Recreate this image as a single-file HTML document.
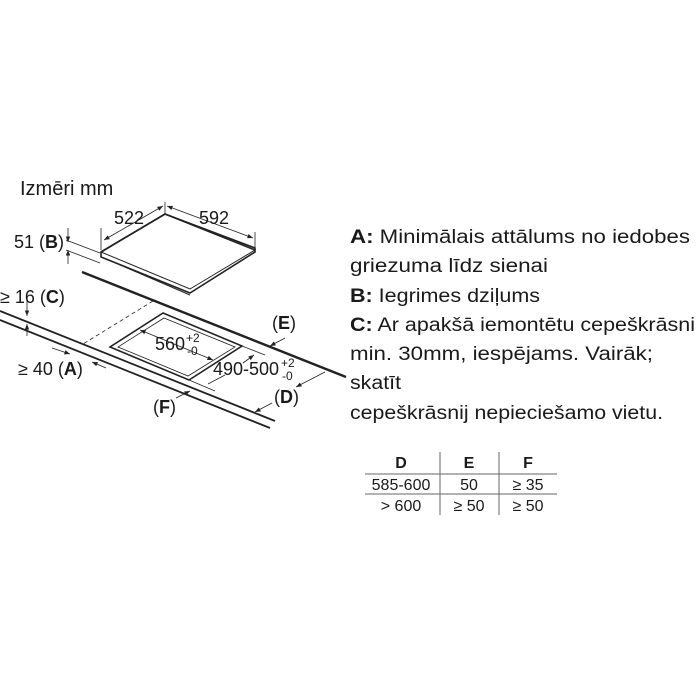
<!DOCTYPE html>
<html><head><meta charset="utf-8"><style>
html,body{margin:0;padding:0;background:#fff;width:700px;height:700px;overflow:hidden}
svg{display:block}
text{font-family:"Liberation Sans",sans-serif;fill:#1a1a1a}
</style></head><body>
<svg width="700" height="700" viewBox="0 0 700 700" xmlns="http://www.w3.org/2000/svg">
<defs>
<marker id="ar" viewBox="0 0 10 10" refX="10" refY="5" markerWidth="7" markerHeight="7" orient="auto-start-reverse"><path d="M0,1 L10,5 L0,9 z" fill="#222"/></marker>
</defs>
<g stroke="#222" fill="none">
<path d="M165,214 L255,248 L255,252 L190,293 L101,257 L101,252 Z" fill="#fff" stroke-width="1.6"/>
<path d="M101,252 L165,214 L255,250" stroke-width="1.6"/>
<path d="M101,252 L190,289 L255,250" stroke-width="1"/>
<path d="M104,258 L190,295" stroke-width="1"/>
<line x1="165" y1="202" x2="165" y2="214" stroke-width="0.8"/>
<line x1="101" y1="228" x2="101" y2="250" stroke-width="0.8"/>
<line x1="255" y1="232" x2="255" y2="248" stroke-width="0.8"/>
<line x1="104" y1="240" x2="163" y2="206" stroke-width="0.8" marker-start="url(#ar)" marker-end="url(#ar)"/>
<line x1="167" y1="206" x2="253" y2="238" stroke-width="0.8" marker-start="url(#ar)" marker-end="url(#ar)"/>
<line x1="66" y1="240" x2="100" y2="253" stroke-width="0.8"/>
<line x1="66" y1="250" x2="100" y2="263" stroke-width="0.8"/>
<line x1="68" y1="228" x2="68" y2="242" stroke-width="0.8" marker-end="url(#ar)"/>
<line x1="68" y1="264" x2="68" y2="250" stroke-width="0.8" marker-end="url(#ar)"/>
<line x1="82" y1="272" x2="346" y2="377" stroke-width="2.4"/>
<line x1="0" y1="311" x2="275" y2="421" stroke-width="1.8"/>
<line x1="0" y1="320" x2="270" y2="428" stroke-width="1.8"/>
<line x1="27" y1="300" x2="27" y2="316" stroke-width="0.8" marker-end="url(#ar)"/>
<line x1="27" y1="336" x2="27" y2="324" stroke-width="0.8" marker-end="url(#ar)"/>
<line x1="153" y1="301" x2="83" y2="344" stroke-width="0.8" stroke-dasharray="4,3"/>
<path d="M163,313 L242,346 L189,380 L110,347 Z" stroke-width="1.6"/>
<path d="M164,318 L235,347 L188,376 L118,347 Z" stroke-width="0.8"/>
<line x1="140" y1="330" x2="213" y2="360" stroke-width="0.8" marker-start="url(#ar)" marker-end="url(#ar)"/>
<line x1="242" y1="346" x2="265" y2="355" stroke-width="0.8"/>
<line x1="189" y1="380" x2="215" y2="391" stroke-width="0.8"/>
<line x1="243" y1="363" x2="254" y2="355" stroke-width="0.8" marker-end="url(#ar)"/>
<line x1="225" y1="375" x2="208" y2="384" stroke-width="0.8"/>
<line x1="52" y1="348" x2="70" y2="354" stroke-width="0.8" marker-end="url(#ar)"/>
<line x1="106" y1="368" x2="92" y2="362" stroke-width="0.8" marker-end="url(#ar)"/>
<line x1="285" y1="338" x2="270" y2="346" stroke-width="0.8" marker-end="url(#ar)"/>
<line x1="176" y1="398" x2="190" y2="391" stroke-width="0.8" marker-end="url(#ar)"/>
<line x1="325" y1="372" x2="296" y2="387" stroke-width="0.8" marker-end="url(#ar)"/>
<line x1="272" y1="403" x2="255" y2="412" stroke-width="0.8" marker-end="url(#ar)"/>
<line x1="365" y1="474" x2="557" y2="474" stroke="#666" stroke-width="1"/>
<line x1="365" y1="494" x2="557" y2="494" stroke="#666" stroke-width="1"/>
<line x1="440" y1="452" x2="440" y2="515" stroke="#666" stroke-width="1"/>
<line x1="499" y1="452" x2="499" y2="515" stroke="#666" stroke-width="1"/>
</g>
<g font-size="18">
<text x="20" y="195" font-size="20">Izmēri mm</text>
<text x="114" y="224">522</text>
<text x="199" y="224">592</text>
<text x="14" y="248">51 (<tspan font-weight="bold">B</tspan>)</text>
<text x="0" y="303">≥ 16 (<tspan font-weight="bold">C</tspan>)</text>
<text x="18" y="375">≥ 40 (<tspan font-weight="bold">A</tspan>)</text>
<text x="155" y="350">560</text><text x="186" y="342" font-size="12">+2</text><text x="187" y="355" font-size="12">-0</text>
<text x="213" y="375">490-500</text><text x="281" y="367" font-size="12">+2</text><text x="282" y="380" font-size="12">-0</text>
<text x="272" y="329">(<tspan font-weight="bold">E</tspan>)</text>
<text x="274" y="403">(<tspan font-weight="bold">D</tspan>)</text>
<text x="153" y="413">(<tspan font-weight="bold">F</tspan>)</text>
</g>
<g font-size="19">
<text x="350" y="243" textLength="340" lengthAdjust="spacingAndGlyphs"><tspan font-weight="bold">A:</tspan> Minimālais attālums no iedobes</text>
<text x="350" y="272" textLength="198" lengthAdjust="spacingAndGlyphs">griezuma līdz sienai</text>
<text x="350" y="302" textLength="190" lengthAdjust="spacingAndGlyphs"><tspan font-weight="bold">B:</tspan> Iegrimes dziļums</text>
<text x="350" y="331" textLength="345" lengthAdjust="spacingAndGlyphs"><tspan font-weight="bold">C:</tspan> Ar apakšā iemontētu cepeškrāsni</text>
<text x="350" y="360" textLength="303" lengthAdjust="spacingAndGlyphs">min. 30mm, iespējams. Vairāk;</text>
<text x="350" y="389" textLength="51" lengthAdjust="spacingAndGlyphs">skatīt</text>
<text x="350" y="419" textLength="313" lengthAdjust="spacingAndGlyphs">cepeškrāsnij nepieciešamo vietu.</text>
</g>
<g font-size="16" text-anchor="middle">
<text x="401" y="468" font-weight="bold">D</text>
<text x="469" y="468" font-weight="bold">E</text>
<text x="528" y="468" font-weight="bold">F</text>
<text x="401" y="490">585-600</text>
<text x="469" y="490">50</text>
<text x="528" y="490">≥ 35</text>
<text x="401" y="511">&gt; 600</text>
<text x="469" y="511">≥ 50</text>
<text x="528" y="511">≥ 50</text>
</g>
</svg>
</body></html>
